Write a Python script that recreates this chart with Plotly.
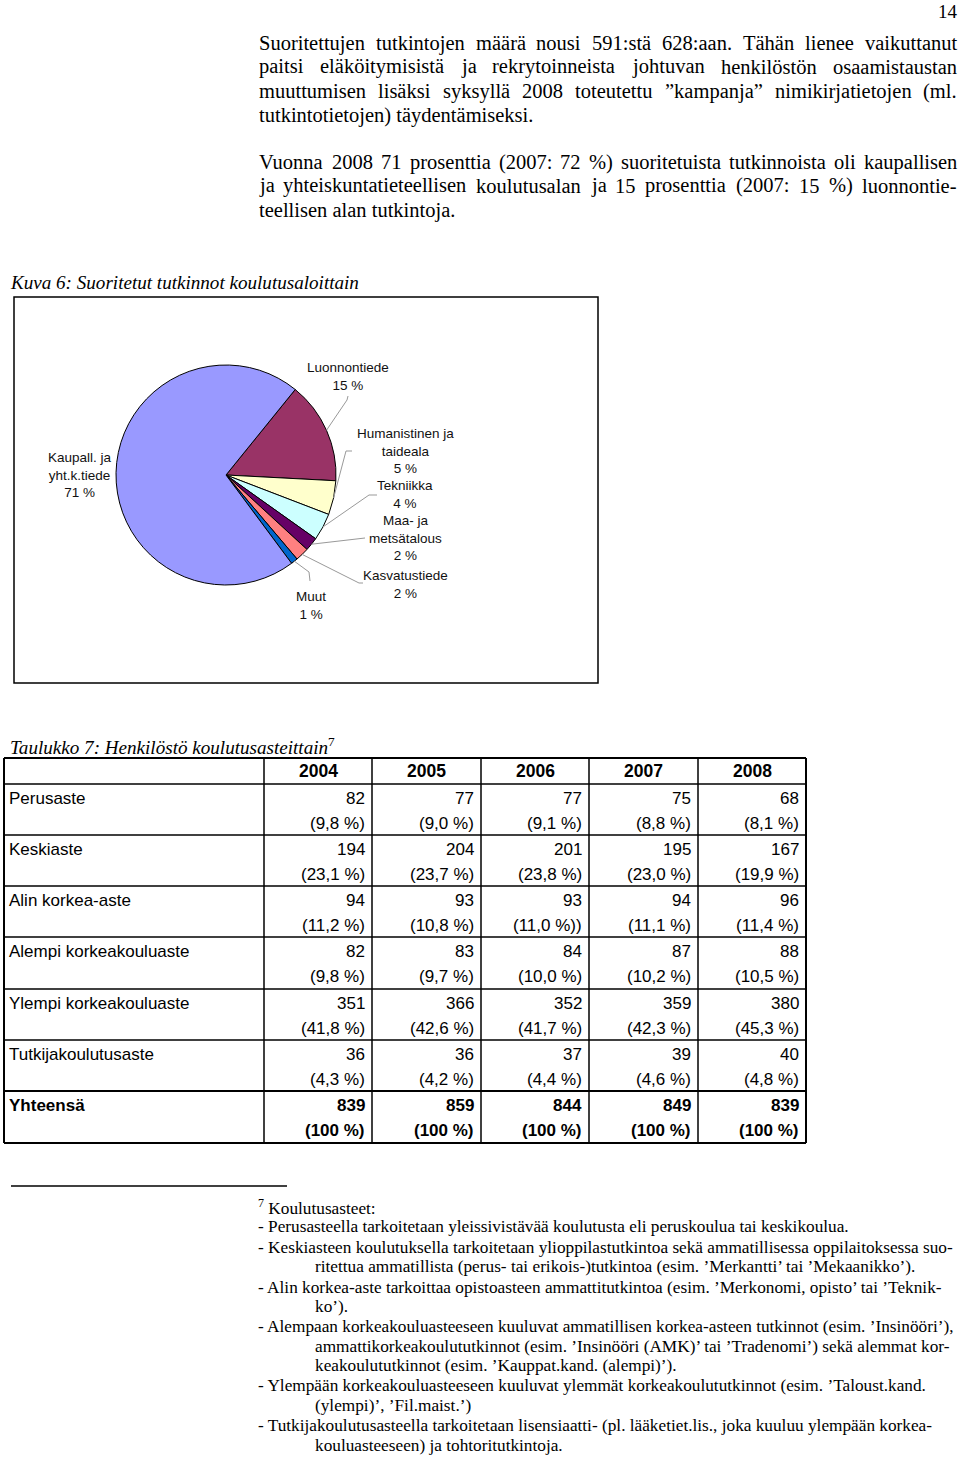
import math
import plotly.graph_objects as go

W, H = 960, 1457

# ---------------- data ----------------
pie_labels = ["Luonnontiede", "Humanistinen ja<br>taideala", "Tekniikka",
              "Maa- ja<br>metsätalous", "Kasvatustiede", "Muut", "Kaupall. ja<br>yht.k.tiede"]
pie_values = [15, 5, 4, 2, 2, 1, 71]
pie_colors = ["#993366", "#FFFFCC", "#CCFFFF", "#660066", "#FF8080", "#0066CC", "#9999FF"]

years = ["2004", "2005", "2006", "2007", "2008"]
levels = ["Perusaste", "Keskiaste", "Alin korkea-aste", "Alempi korkeakouluaste",
          "Ylempi korkeakouluaste", "Tutkijakoulutusaste"]
counts = {
    "2004": [82, 194, 94, 82, 351, 36],
    "2005": [77, 204, 93, 83, 366, 36],
    "2006": [77, 201, 93, 84, 352, 37],
    "2007": [75, 195, 94, 87, 359, 39],
    "2008": [68, 167, 96, 88, 380, 40],
}
shares = {
    "2004": ["(9,8 %)", "(23,1 %)", "(11,2 %)", "(9,8 %)", "(41,8 %)", "(4,3 %)"],
    "2005": ["(9,0 %)", "(23,7 %)", "(10,8 %)", "(9,7 %)", "(42,6 %)", "(4,2 %)"],
    "2006": ["(9,1 %)", "(23,8 %)", "(11,0 %))", "(10,0 %)", "(41,7 %)", "(4,4 %)"],
    "2007": ["(8,8 %)", "(23,0 %)", "(11,1 %)", "(10,2 %)", "(42,3 %)", "(4,6 %)"],
    "2008": ["(8,1 %)", "(19,9 %)", "(11,4 %)", "(10,5 %)", "(45,3 %)", "(4,8 %)"],
}
total_label = "Yhteensä"
totals = [839, 859, 844, 849, 839]
total_share = "(100 %)"

para1 = ["Suoritettujen tutkintojen määrä nousi 591:stä 628:aan. Tähän lienee vaikuttanut",
         "paitsi eläköitymisistä ja rekrytoinneista johtuvan henkilöstön osaamistaustan",
         "muuttumisen lisäksi syksyllä 2008 toteutettu ”kampanja” nimikirjatietojen (ml.",
         "tutkintotietojen) täydentämiseksi."]
para2 = ["Vuonna 2008 71 prosenttia (2007: 72 %) suoritetuista tutkinnoista oli kaupallisen",
         "ja yhteiskuntatieteellisen koulutusalan ja 15 prosenttia (2007: 15 %) luonnontie-",
         "teellisen alan tutkintoja."]
foot = [
    (False, "<sup>7</sup> Koulutusasteet:"),
    (False, "- Perusasteella tarkoitetaan yleissivistävää koulutusta eli peruskoulua tai keskikoulua."),
    (False, "- Keskiasteen koulutuksella tarkoitetaan ylioppilastutkintoa sekä ammatillisessa oppilaitoksessa suo-"),
    (True, "ritettua ammatillista (perus- tai erikois-)tutkintoa (esim. ’Merkantti’ tai ’Mekaanikko’)."),
    (False, "- Alin korkea-aste tarkoittaa opistoasteen ammattitutkintoa (esim. ’Merkonomi, opisto’ tai ’Teknik-"),
    (True, "ko’)."),
    (False, "- Alempaan korkeakouluasteeseen kuuluvat ammatillisen korkea-asteen tutkinnot (esim. ’Insinööri’),"),
    (True, "ammattikorkeakoulututkinnot (esim. ’Insinööri (AMK)’ tai ’Tradenomi’) sekä alemmat kor-"),
    (True, "keakoulututkinnot (esim. ’Kauppat.kand. (alempi)’)."),
    (False, "- Ylempään korkeakouluasteeseen kuuluvat ylemmät korkeakoulututkinnot (esim. ’Taloust.kand."),
    (True, "(ylempi)’, ’Fil.maist.’)"),
    (False, "- Tutkijakoulutusasteella tarkoitetaan lisensiaatti- (pl. lääketiet.lis., joka kuuluu ylempään korkea-"),
    (True, "kouluasteeseen) ja tohtoritutkintoja."),
]

# ---------------- helpers ----------------
def X(px):
    return px / W

def Y(py):
    return 1 - py / H

SERIF = "Liberation Serif, Times New Roman, serif"
SANS = "Liberation Sans, Arial, sans-serif"

# Times (Liberation Serif) advance widths, per 1000 em, for justification
TW = {' ': 250, '%': 833, '(': 333, ')': 333, ',': 250, '-': 333, '.': 250, ':': 278,
      '”': 444, '’': 333, 'ä': 444, 'ö': 500, 'Ä': 722, 'Ö': 722}
TW.update({d: 500 for d in "0123456789"})
TW.update(dict(zip("abcdefghijklmnopqrstuvwxyz",
                   [444, 500, 444, 500, 444, 333, 500, 500, 278, 278, 500, 278, 778,
                    500, 500, 500, 500, 333, 389, 278, 500, 500, 722, 500, 500, 444])))
TW.update(dict(zip("ABCDEFGHIJKLMNOPQRSTUVWXYZ",
                   [722, 667, 667, 722, 611, 556, 722, 722, 333, 389, 722, 611, 889,
                    722, 722, 556, 722, 667, 556, 611, 722, 722, 944, 722, 722, 611])))

def tw(s, size):
    return sum(TW.get(c, 500) for c in s) * size / 1000.0

fig = go.Figure()
ann = []
shapes = []

def text(x, y, s, size, family=SERIF, xanchor="left", color="black", align="left"):
    ann.append(dict(x=X(x), y=Y(y), xref="paper", yref="paper", text=s, showarrow=False,
                    xanchor=xanchor, yanchor="middle", align=align, borderpad=0, borderwidth=0,
                    font=dict(family=family, size=size, color=color)))

def justified(line, x0, x1, y, size):
    words = line.split(" ")
    widths = [tw(w, size) for w in words]
    gap = (x1 - x0 - sum(widths)) / (len(words) - 1)
    x = x0
    for w, wd in zip(words, widths):
        text(x, y, w, size)
        x += wd + gap

def hline(x0, x1, y, w=1.5, color="black"):
    shapes.append(dict(type="line", xref="paper", yref="paper", x0=X(x0), x1=X(x1),
                       y0=Y(y), y1=Y(y), line=dict(color=color, width=w)))

def vline(x, y0, y1, w=1.5, color="black"):
    shapes.append(dict(type="line", xref="paper", yref="paper", x0=X(x), x1=X(x),
                       y0=Y(y0), y1=Y(y1), line=dict(color=color, width=w)))

# page number + paragraphs
PSIZE = 20.5
text(958, 12, "14", 19, xanchor="right")
for i, line in enumerate(para1):
    if i < len(para1) - 1:
        justified(line, 259, 957, 43 + 24 * i, PSIZE)
    else:
        text(259, 43 + 24 * i, line, PSIZE)
for i, line in enumerate(para2):
    if i < len(para2) - 1:
        justified(line, 259, 957, 162 + 24 * i, PSIZE)
    else:
        text(259, 162 + 24 * i, line, PSIZE)

# figure title and frame
text(10, 282, "<i>Kuva 6: Suoritetut tutkinnot koulutusaloittain</i>", 19.1)
shapes.append(dict(type="rect", xref="paper", yref="paper", x0=X(14), x1=X(598), y0=Y(683), y1=Y(297),
                   line=dict(color="black", width=1.5)))

# pie
cx, cy, R = 226, 475, 110
start_angle = 39
fig.add_trace(go.Pie(labels=[l.replace("<br>", " ") for l in pie_labels], values=pie_values,
                     marker=dict(colors=pie_colors, line=dict(color="black", width=1)),
                     sort=False, direction="clockwise", rotation=start_angle,
                     textinfo="none", hoverinfo="label+percent", showlegend=False,
                     domain=dict(x=[X(cx - R), X(cx + R)], y=[Y(cy + R), Y(cy - R)])))

# labels and leader lines (start point from slice mid-angle)
label_pos = [(348, 376), (405, 451), (405, 494), (405, 538), (405, 585), (311, 605), (80, 475)]
leader_path = [
    [(347, 400), (348, 396)],
    [(346, 451), (352, 451)],
    [(369, 495), (377, 495)],
    [(365, 538)],
    [(359, 583), (363, 583)],
    [(309, 572), (310, 581)],
    None,
]
total = sum(pie_values)
acc = 0
for lab, val, pos, path in zip(pie_labels, pie_values, label_pos, leader_path):
    mid = start_angle + 360 * (acc + val / 2) / total
    acc += val
    text(pos[0], pos[1], f"{lab}<br>{val} %", 13.5, family=SANS, xanchor="center", align="center",
         color="#111111")
    if path:
        a = math.radians(mid)
        pts = [(cx + R * math.sin(a), cy - R * math.cos(a))] + path
        d = "M " + " L ".join(f"{X(px)},{Y(py)}" for px, py in pts)
        shapes.append(dict(type="path", xref="paper", yref="paper", path=d,
                           line=dict(color="#999999", width=1)))

# table title
text(10, 746, "<i>Taulukko 7: Henkilöstö koulutusasteittain</i><sup>7</sup>", 19.1)

# table grid
col_x = [4, 264, 372, 481, 589, 698, 806]
row_y = [758, 784, 835, 886, 937, 989, 1040, 1091, 1143]
TS = 17
for i, yy in enumerate(row_y):
    hline(col_x[0], col_x[-1], yy, w=2 if i in (0, len(row_y) - 2, len(row_y) - 1) else 1.5)
for j, xx in enumerate(col_x):
    vline(xx, row_y[0], row_y[-1], w=2 if j in (0, len(col_x) - 1) else 1.5)

# header
for j, yr in enumerate(years):
    text((col_x[j + 1] + col_x[j + 2]) / 2, row_y[0] + 13, f"<b>{yr}</b>", TS + 0.5, family=SANS,
         xanchor="center", align="center")

# body rows
for i, lev in enumerate(levels):
    top = row_y[i + 1]
    text(9, top + 14, lev, TS, family=SANS)
    for j, yr in enumerate(years):
        xr = col_x[j + 2] - 7
        text(xr, top + 14, str(counts[yr][i]), TS, family=SANS, xanchor="right", align="right")
        text(xr, top + 39, shares[yr][i], TS, family=SANS, xanchor="right", align="right")

# total row
top = row_y[len(levels) + 1]
text(9, top + 14, f"<b>{total_label}</b>", TS, family=SANS)
for j, tot in enumerate(totals):
    xr = col_x[j + 2] - 7
    text(xr, top + 14, f"<b>{tot}</b>", TS, family=SANS, xanchor="right", align="right")
    text(xr, top + 39, f"<b>{total_share}</b>", TS, family=SANS, xanchor="right", align="right")

# footnote
hline(11, 287, 1186, w=1.5)
fy = [1207, 1226, 1247, 1266, 1287, 1306, 1326, 1346, 1365, 1385, 1405, 1425, 1445]
for (indent, line), yy in zip(foot, fy):
    text(315 if indent else 258, yy, line, 17.25)

fig.update_layout(width=W, height=H, margin=dict(l=0, r=0, t=0, b=0),
                  paper_bgcolor="white", plot_bgcolor="white",
                  xaxis=dict(visible=False), yaxis=dict(visible=False),
                  annotations=ann, shapes=shapes)
fig.write_html("out.html")
